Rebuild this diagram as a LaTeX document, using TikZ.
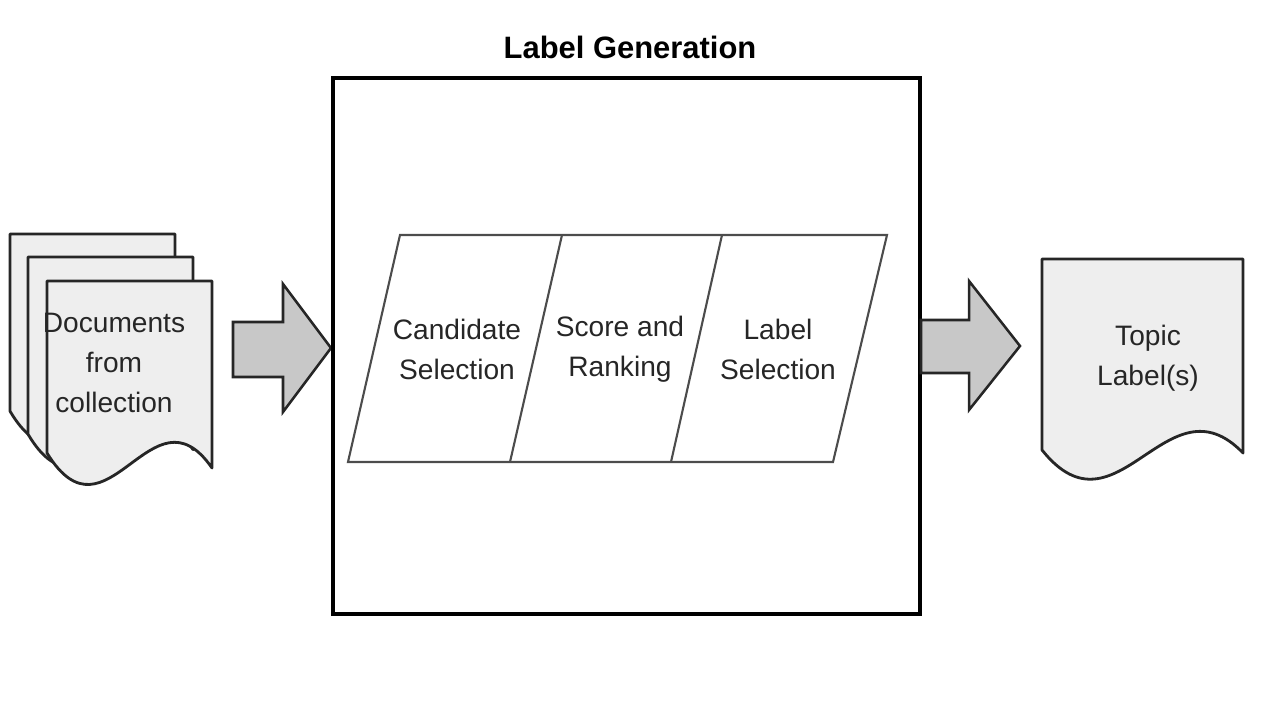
\documentclass[tikz,border=0pt]{standalone}
\usepackage{fontspec}
\setmainfont{Liberation Sans}
\definecolor{docgray}{HTML}{EEEEEE}
\definecolor{arrowgray}{HTML}{C8C8C8}
\begin{document}
\begin{tikzpicture}[x=0.025cm,y=-0.025cm,
  doc/.style={fill=docgray,draw=black!85,line width=2pt,line join=round},
  blockarrow/.style={fill=arrowgray,draw=black!85,line width=1.8pt,line join=miter},
  stage/.style={draw=black!70,line width=1.5pt,line join=miter},
  txt/.style={font=\fontsize{20}{28.5}\selectfont,align=center,text=black!85}]
\useasboundingbox (0,0) rectangle (1280,720);

% documents from collection
\foreach \dx/\dy/\s in {10/234/1.03,28/257/1.03,47/281/1}{
  \begin{scope}[shift={(\dx,\dy)},yscale=\s]
    \draw[doc] (0,0) -- (165,0) -- (165,187) .. controls (105,100) and (60,270) .. (0,172) -- cycle;
  \end{scope}
}
\node[txt] (docs) at (114,363) {Documents\\from\\collection};

\draw[blockarrow] (233,322) -- (283,322) -- (283,284) -- (331,348) -- (283,412) -- (283,377) -- (233,377) -- cycle;

% label generation
\draw[line width=2.2pt] (333,78) rectangle (920,614);
\node[font=\bfseries\fontsize{22}{26}\selectfont] (title) at (630,47) {Label Generation};

\draw[stage] (400,235) -- (887,235) -- (833,462) -- (348,462) -- cycle;
\draw[stage] (562,235) -- (510,462);
\draw[stage] (722,235) -- (671,462);
\node[txt] (cand) at (457,349) {Candidate\\Selection};
\node[txt] (score) at (620,349) {Score and\\Ranking};
\node[txt] (select) at (778,349) {Label\\Selection};

\draw[blockarrow] (921,320) -- (969,320) -- (969,281) -- (1020,346) -- (969,410) -- (969,373) -- (921,373) -- cycle;

% topic labels
\draw[doc] (1042,259) -- (1243,259) -- (1243,453) .. controls (1167,374) and (1117,544) .. (1042,450) -- cycle;
\node[txt] (topics) at (1148,358) {Topic\\Label(s)};
\end{tikzpicture}
\end{document}
